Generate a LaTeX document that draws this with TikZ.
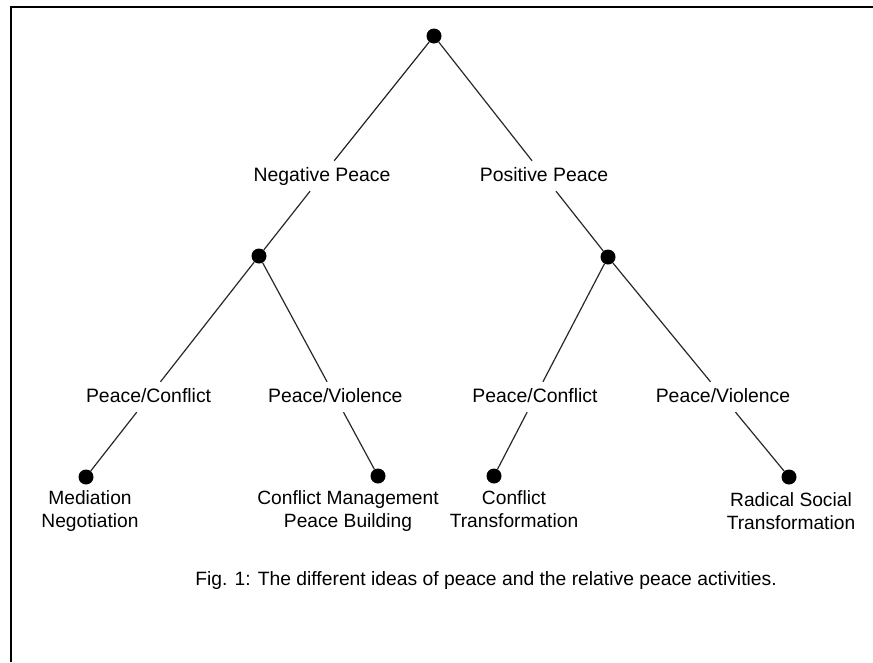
\documentclass[tikz,border=0pt]{standalone}
\usepackage{fontspec}
\setmainfont{Liberation Sans}
\usepackage{xcolor}
\usepackage{tikz}
\usetikzlibrary{positioning}
\definecolor{treeline}{RGB}{40,40,40}
\tikzset{
  dot/.style={circle, fill=black, draw=none, minimum size=15pt, inner sep=0pt},
  branchlabel/.style={font=\fontsize{19.4}{23}\selectfont, text height=14pt,
    text depth=4pt, inner xsep=2pt, inner ysep=6pt},
  leaflabel/.style={font=\fontsize{19.2}{23}\selectfont, align=center,
    inner sep=0pt, anchor=north},
  branch/.style={draw, color=treeline, line width=1.2pt},
  frame/.style={draw, color=black, line width=1.3pt}
}

\begin{document}
\begin{tikzpicture}[x=1pt, y=-1pt]
  \useasboundingbox (0,0) rectangle (873,662);
  % Page frame (top and left edges only)
  \draw[frame] (873,7) -- (11,7) -- (11,662);

  % Root and inner dots
  \node[dot] (root) at (434,36) {};
  \node[dot] (negdot) at (259,256) {};
  \node[dot] (posdot) at (608,257) {};

  % Leaf dots
  \node[dot] (meddot) at (86,477) {};
  \node[dot] (mgmtdot) at (378,476) {};
  \node[dot] (transdot) at (494,476) {};
  \node[dot] (radicaldot) at (789,477) {};

  % Level 1 labels - centred on the branch lines
  \node[branchlabel] (negpeace) at (322,176) {Negative Peace};
  \node[branchlabel] (pospeace) at (544,176) {Positive Peace};

  % Level 2 labels
  \node[branchlabel] (negconflict) at (148.6,397) {Peace/Conflict};
  \node[branchlabel] (negviolence) at (335.3,397) {Peace/Violence};
  \node[branchlabel] (posconflict) at (535,397) {Peace/Conflict};
  \node[branchlabel] (posviolence) at (723,397) {Peace/Violence};

  % Leaf labels
  \node[leaflabel] (medtext) at (90,490) {Mediation\\Negotiation};
  \node[leaflabel] (mgmttext) at (348,490) {Conflict Management\\Peace Building};
  \node[leaflabel] (transtext) at (514,490) {Conflict\\Transformation};
  \node[leaflabel] (radicaltext) at (791,492) {Radical Social\\Transformation};

  % Branches
  \draw[branch] (root) -- (negpeace);
  \draw[branch] (negpeace) -- (negdot);
  \draw[branch] (root) -- (pospeace);
  \draw[branch] (pospeace) -- (posdot);

  \draw[branch] (negdot) -- (negconflict);
  \draw[branch] (negconflict) -- (meddot);
  \draw[branch] (negdot) -- (negviolence);
  \draw[branch] (negviolence) -- (mgmtdot);
  \draw[branch] (posdot) -- (posconflict);
  \draw[branch] (posconflict) -- (transdot);
  \draw[branch] (posdot) -- (posviolence);
  \draw[branch] (posviolence) -- (radicaldot);

  % Caption
  \node[font=\fontsize{19.3}{22}\selectfont, anchor=base, inner sep=0pt] (caption) at (486,585)
    {Fig. 1: The different ideas of peace and the relative peace activities.};
\end{tikzpicture}
\end{document}
